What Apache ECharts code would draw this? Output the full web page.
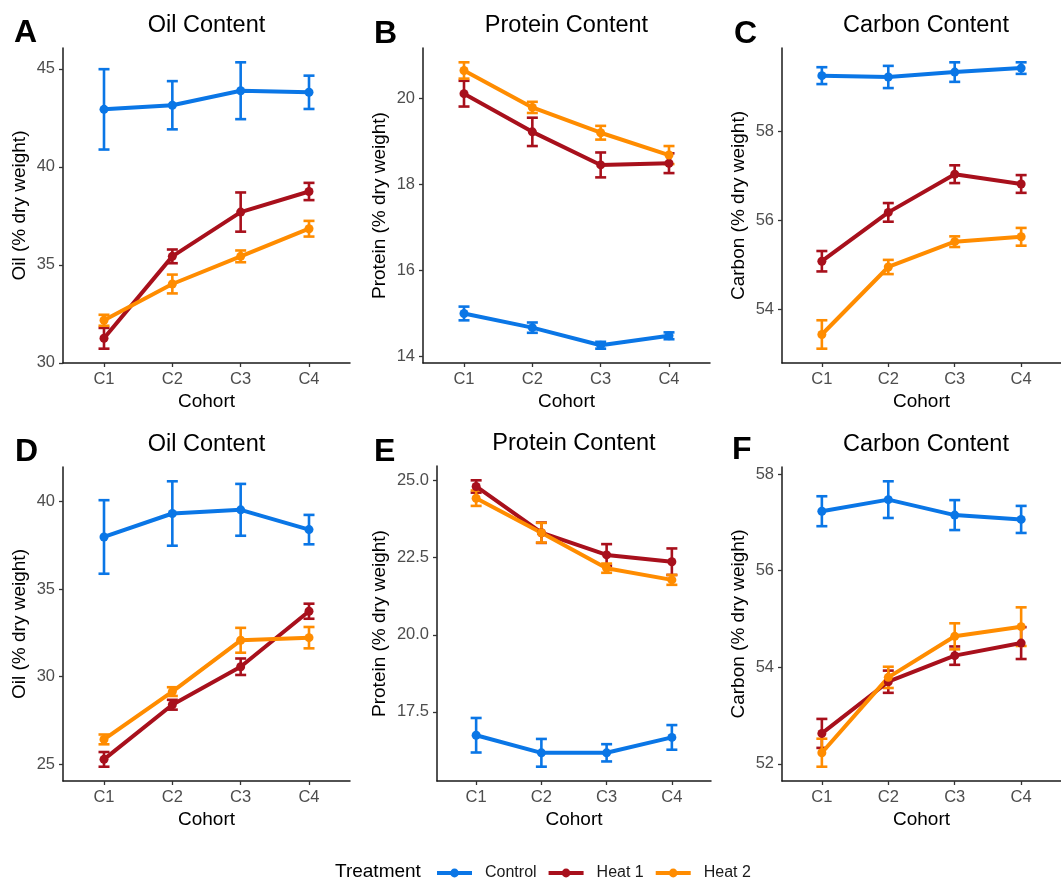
<!DOCTYPE html>
<html>
<head>
<meta charset="utf-8">
<script src="https://cdn.jsdelivr.net/npm/echarts@6/dist/echarts.min.js"></script>
<style>
  html, body { margin: 0; background: #fff; }
  #chart { width: 1061px; height: 880px; }
</style>
</head>
<body>
<div id="chart"></div>
<script>
const cohorts = ["C1", "C2", "C3", "C4"];
const treatments = ["Control", "Heat 1", "Heat 2"];
const colors = ["#0A76E6", "#A8101C", "#FF8C00"];

// means for [Control, Heat 1, Heat 2] and half widths of the error bars
const oilTopMean = [[42.93, 43.14, 43.88, 43.8], [31.25, 35.43, 37.69, 38.74], [32.17, 34.02, 35.43, 36.84]];
const oilTopErr = [[2.05, 1.23, 1.45, 0.85], [0.53, 0.35, 1.0, 0.44], [0.28, 0.48, 0.3, 0.4]];
const proteinTopMean = [[14.99, 14.66, 14.25, 14.47], [20.11, 19.22, 18.45, 18.49], [20.65, 19.79, 19.2, 18.68]];
const proteinTopErr = [[0.16, 0.12, 0.08, 0.08], [0.3, 0.33, 0.29, 0.23], [0.19, 0.13, 0.16, 0.21]];
const carbonTopMean = [[59.26, 59.23, 59.34, 59.43], [55.08, 56.18, 57.04, 56.82], [53.43, 54.95, 55.52, 55.63]];
const carbonTopErr = [[0.19, 0.25, 0.22, 0.13], [0.23, 0.21, 0.2, 0.2], [0.32, 0.16, 0.12, 0.2]];
const oilBottomMean = [[37.98, 39.32, 39.53, 38.4], [25.28, 28.4, 30.57, 33.74], [26.42, 29.15, 32.08, 32.23]];
const oilBottomErr = [[2.1, 1.84, 1.48, 0.84], [0.42, 0.28, 0.47, 0.43], [0.28, 0.25, 0.71, 0.61]];
const proteinBottomMean = [[16.74, 16.17, 16.17, 16.67], [24.81, 23.31, 22.59, 22.37], [24.43, 23.31, 22.16, 21.78]];
const proteinBottomErr = [[0.56, 0.45, 0.28, 0.4], [0.2, 0.33, 0.35, 0.43], [0.25, 0.32, 0.15, 0.16]];
const carbonBottomMean = [[57.23, 57.47, 57.15, 57.06], [52.63, 53.7, 54.24, 54.5], [52.23, 53.79, 54.64, 54.84]];
const carbonBottomErr = [[0.31, 0.38, 0.31, 0.28], [0.3, 0.23, 0.19, 0.33], [0.29, 0.22, 0.27, 0.4]];

const oilTopTicks = [30, 35, 40, 45];
const proteinTopTicks = [14, 16, 18, 20];
const carbonTopTicks = [54, 56, 58];
const oilBottomTicks = [25, 30, 35, 40];
const proteinBottomTicks = [17.5, 20, 22.5, 25];
const carbonBottomTicks = [52, 54, 56, 58];

const panels = [
  { letter: "A", lx: 14, ly: 33, title: "Oil Content", yName: "Oil (% dry weight)", mean: oilTopMean, err: oilTopErr, ticks: oilTopTicks, digits: 0, gap: 34, grid: { left: 63, top: 48, width: 287, height: 315 } },
  { letter: "B", lx: 374, ly: 34, title: "Protein Content", yName: "Protein (% dry weight)", mean: proteinTopMean, err: proteinTopErr, ticks: proteinTopTicks, digits: 0, gap: 34, grid: { left: 423, top: 48, width: 287, height: 315 } },
  { letter: "C", lx: 734, ly: 34, title: "Carbon Content", yName: "Carbon (% dry weight)", mean: carbonTopMean, err: carbonTopErr, ticks: carbonTopTicks, digits: 0, gap: 34, grid: { left: 782, top: 48, width: 288, height: 315 } },
  { letter: "D", lx: 15, ly: 452, title: "Oil Content", yName: "Oil (% dry weight)", mean: oilBottomMean, err: oilBottomErr, ticks: oilBottomTicks, digits: 0, gap: 34, grid: { left: 63, top: 467, width: 287, height: 314 } },
  { letter: "E", lx: 374, ly: 452, title: "Protein Content", yName: "Protein (% dry weight)", mean: proteinBottomMean, err: proteinBottomErr, ticks: proteinBottomTicks, digits: 1, gap: 48, grid: { left: 437, top: 466, width: 274, height: 315 } },
  { letter: "F", lx: 732, ly: 450, title: "Carbon Content", yName: "Carbon (% dry weight)", mean: carbonBottomMean, err: carbonBottomErr, ticks: carbonBottomTicks, digits: 0, gap: 34, grid: { left: 782, top: 467, width: 288, height: 314 } }
];

const font = "Liberation Sans, Arial, sans-serif";
const axisColor = "#1a1a1a";

function renderErr(params, api) {
  const x = api.value(0);
  const top = api.coord([x, api.value(3)]);
  const bot = api.coord([x, api.value(2)]);
  const w = 5.5;
  const style = { stroke: api.visual("color"), lineWidth: 2.6 };
  return {
    type: "group",
    children: [
      { type: "line", shape: { x1: top[0], y1: top[1], x2: bot[0], y2: bot[1] }, style: style },
      { type: "line", shape: { x1: top[0] - w, y1: top[1], x2: top[0] + w, y2: top[1] }, style: style },
      { type: "line", shape: { x1: bot[0] - w, y1: bot[1], x2: bot[0] + w, y2: bot[1] }, style: style }
    ]
  };
}

// ggplot style range: data extent (with error bars) padded by 5%
function yRange(mean, err) {
  let lo = Infinity, hi = -Infinity;
  mean.forEach((row, k) => row.forEach((m, j) => {
    lo = Math.min(lo, m - err[k][j]);
    hi = Math.max(hi, m + err[k][j]);
  }));
  const pad = (hi - lo) * 0.05;
  return [lo - pad, hi + pad];
}

const grids = [], xAxes = [], yAxes = [], series = [], graphics = [];

panels.forEach((p, i) => {
  grids.push(p.grid);
  xAxes.push({
    gridIndex: i,
    type: "value",
    min: 0.4,
    max: 4.6,
    name: "Cohort",
    nameLocation: "middle",
    nameGap: 29,
    nameTextStyle: { fontSize: 19, color: "#000", fontFamily: font },
    axisLine: { show: true, onZero: false, lineStyle: { color: axisColor, width: 1.5 } },
    axisTick: { show: true, length: 4, customValues: [1, 2, 3, 4], lineStyle: { color: "#333", width: 1.3 } },
    axisLabel: { customValues: [1, 2, 3, 4], formatter: v => cohorts[Math.round(v) - 1], color: "#4D4D4D", fontSize: 16.5, margin: 8, fontFamily: font },
    splitLine: { show: false }
  });
  const r = yRange(p.mean, p.err);
  yAxes.push({
    gridIndex: i,
    type: "value",
    min: r[0],
    max: r[1],
    name: p.yName,
    nameLocation: "middle",
    nameRotate: 90,
    nameGap: p.gap,
    nameTextStyle: { fontSize: 19, color: "#000", fontFamily: font },
    axisLine: { show: true, lineStyle: { color: axisColor, width: 1.5 } },
    axisTick: { show: true, length: 4, customValues: p.ticks, lineStyle: { color: "#333", width: 1.3 } },
    axisLabel: { customValues: p.ticks, formatter: v => v.toFixed(p.digits), color: "#4D4D4D", fontSize: 16.5, margin: 8, fontFamily: font },
    splitLine: { show: false }
  });

  treatments.forEach((t, k) => {
    series.push({
      type: "custom",
      xAxisIndex: i,
      yAxisIndex: i,
      silent: true,
      itemStyle: { color: colors[k] },
      renderItem: renderErr,
      data: p.mean[k].map((m, j) => [j + 1, m, m - p.err[k][j], m + p.err[k][j]])
    });
    series.push({
      type: "line",
      name: t,
      xAxisIndex: i,
      yAxisIndex: i,
      symbol: "circle",
      symbolSize: 9,
      showSymbol: true,
      lineStyle: { width: 4, color: colors[k] },
      itemStyle: { color: colors[k] },
      emphasis: { disabled: true },
      data: p.mean[k].map((m, j) => [j + 1, m])
    });
  });

  graphics.push({
    type: "text",
    x: p.grid.left + p.grid.width / 2,
    y: p.grid.top - 22.5,
    style: { text: p.title, font: "23.5px " + font, fill: "#000", textAlign: "center", textVerticalAlign: "middle" }
  });
  graphics.push({
    type: "text",
    x: p.lx,
    y: p.ly,
    style: { text: p.letter, font: "bold 32px " + font, fill: "#000", textAlign: "left", textVerticalAlign: "middle" }
  });
});

graphics.push({
  type: "text",
  x: 335,
  y: 872,
  style: { text: "Treatment", font: "19px " + font, fill: "#000", textAlign: "left", textVerticalAlign: "middle" }
});

const option = {
  animation: false,
  backgroundColor: "#fff",
  textStyle: { fontFamily: font },
  grid: grids,
  xAxis: xAxes,
  yAxis: yAxes,
  series: series,
  graphic: graphics,
  legend: {
    data: treatments,
    left: 430,
    top: 860,
    itemWidth: 35,
    itemHeight: 11,
    itemGap: 10,
    selectedMode: false,
    lineStyle: { width: 4 },
    textStyle: { fontSize: 16, color: "#1a1a1a", fontFamily: font, padding: [0, 0, 0, 8] }
  }
};

const chart = echarts.init(document.getElementById("chart"));
chart.setOption(option);
</script>
</body>
</html>
